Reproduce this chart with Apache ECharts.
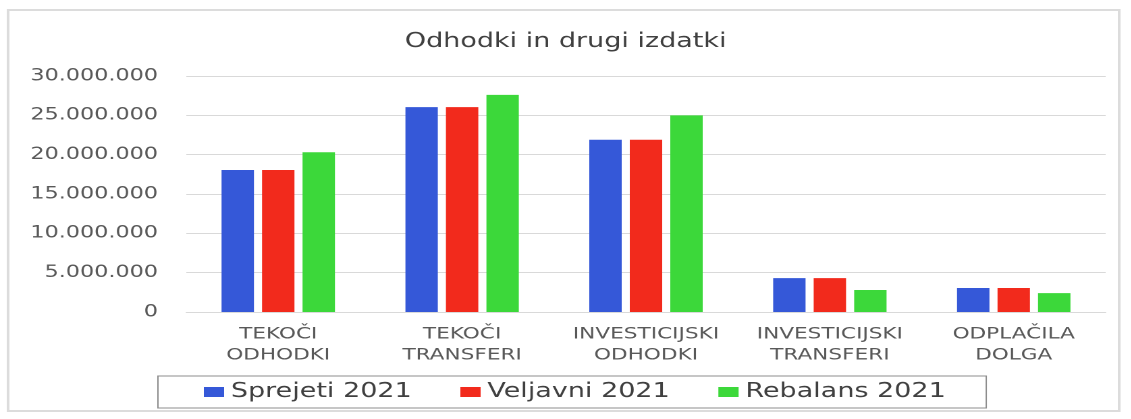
<!DOCTYPE html>
<html>
<head>
<meta charset="utf-8">
<script src="https://cdn.jsdelivr.net/npm/echarts@6/dist/echarts.min.js"></script>
<style>
  html, body { margin: 0; padding: 0; background: #ffffff; overflow: hidden; }
  /* the original picture is stretched sideways, so draw narrow and stretch it */
  #chart { width: 838px; height: 419px; transform: scaleX(1.35); transform-origin: 0 0; }
</style>
</head>
<body>
<div id="chart"></div>
<script>
// categories and series
const categories = ['TEKOČI\nODHODKI', 'TEKOČI\nTRANSFERI', 'INVESTICIJSKI\nODHODKI', 'INVESTICIJSKI\nTRANSFERI', 'ODPLAČILA\nDOLGA'];
const sprejeti = [18050000, 26050000, 21900000, 4300000, 3050000];
const veljavni = [18050000, 26050000, 21900000, 4300000, 3050000];
const rebalans = [20300000, 27600000, 25000000, 2800000, 2400000];
const seriesNames = ['Sprejeti 2021', 'Veljavni 2021', 'Rebalans 2021'];
const colors = ['#3558d8', '#f22a1c', '#3cd83a'];

const chart = echarts.init(document.getElementById('chart'), null, { devicePixelRatio: 2 });

// 30000000 -> "30.000.000"
function fmt(v) {
  return String(v).replace(/\B(?=(\d{3})+(?!\d))/g, '.');
}

const font = 'DejaVu Sans';

chart.setOption({
  animation: false,
  color: colors,
  title: {
    text: 'Odhodki in drugi izdatki',
    left: 'center',
    top: 27,
    textStyle: { fontFamily: font, fontSize: 20, fontWeight: 'normal', color: '#404040' }
  },
  graphic: [{
    type: 'rect',
    shape: { x: 6, y: 10, width: 823, height: 401 },
    style: { fill: 'none', stroke: '#dcdcdc', lineWidth: 2 },
    silent: true
  }],
  legend: {
    data: seriesNames,
    left: 117,
    top: 376,
    padding: [6, 30, 6, 34],
    itemGap: 36,
    itemWidth: 15,
    itemHeight: 10,
    icon: 'rect',
    borderColor: '#8c8c8c',
    borderWidth: 1,
    textStyle: { fontFamily: font, fontSize: 20, color: '#404040' }
  },
  grid: {
    left: 138,
    right: 19,
    top: 76,
    bottom: 107,
    containLabel: false
  },
  xAxis: {
    type: 'category',
    data: categories,
    axisTick: { show: false },
    axisLine: { lineStyle: { color: '#d9d9d9', width: 1 } },
    axisLabel: {
      fontFamily: font,
      fontSize: 16,
      color: '#595959',
      lineHeight: 21,
      margin: 12,
      interval: 0
    }
  },
  yAxis: {
    type: 'value',
    min: 0,
    max: 30000000,
    interval: 5000000,
    axisLine: { show: false },
    axisTick: { show: false },
    splitLine: { lineStyle: { color: '#d9d9d9', width: 1 } },
    axisLabel: {
      fontFamily: font,
      fontSize: 16.5,
      color: '#595959',
      margin: 21,
      formatter: fmt
    }
  },
  series: [
    { name: seriesNames[0], type: 'bar', data: sprejeti, barWidth: 24, barGap: '25%' },
    { name: seriesNames[1], type: 'bar', data: veljavni, barWidth: 24, barGap: '25%' },
    { name: seriesNames[2], type: 'bar', data: rebalans, barWidth: 24, barGap: '25%' }
  ]
});
</script>
</body>
</html>
